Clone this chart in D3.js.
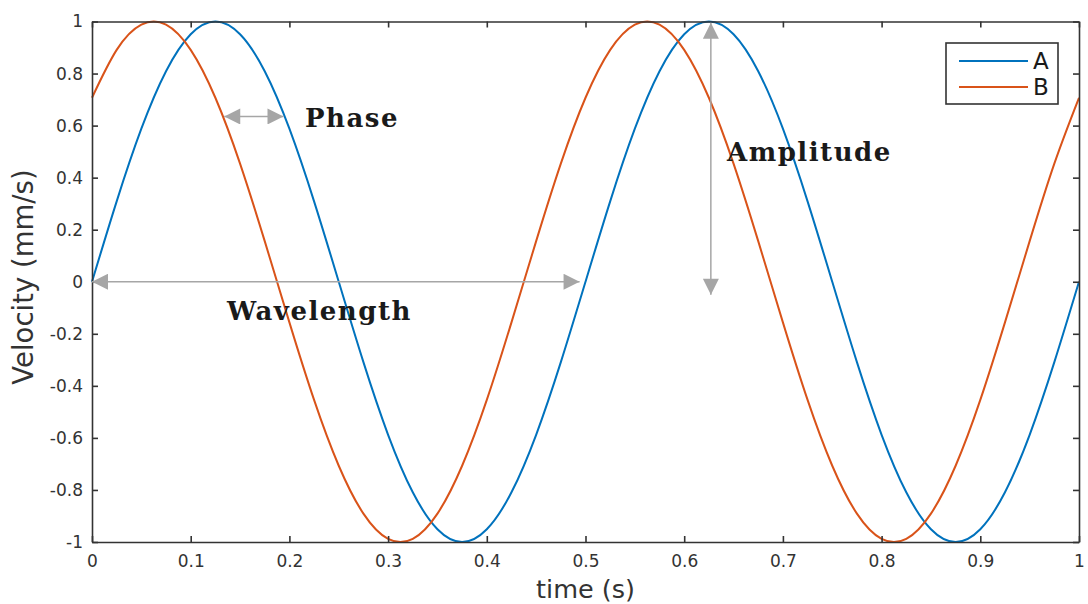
<!DOCTYPE html>
<html>
<head>
<meta charset="utf-8">
<script src="https://cdn.jsdelivr.net/npm/d3@7"></script>
<style>
  html, body { margin: 0; padding: 0; background: #fff; }
  svg { display: block; }
</style>
</head>
<body>
<svg id="chart" width="1088" height="604"></svg>
<script>
// Sample times (s)
const time = [0, 0.025, 0.05, 0.075, 0.1, 0.125, 0.15, 0.175, 0.2, 0.225,
  0.25, 0.275, 0.3, 0.325, 0.35, 0.375, 0.4, 0.425, 0.45, 0.475,
  0.5, 0.525, 0.55, 0.575, 0.6, 0.625, 0.65, 0.675, 0.7, 0.725,
  0.75, 0.775, 0.8, 0.825, 0.85, 0.875, 0.9, 0.925, 0.95, 0.975, 1];

// Velocity (mm/s) of wave A
const velocityA = [0, 0.309, 0.588, 0.809, 0.951, 1, 0.951, 0.809, 0.588, 0.309,
  0, -0.309, -0.588, -0.809, -0.951, -1, -0.951, -0.809, -0.588, -0.309,
  0, 0.309, 0.588, 0.809, 0.951, 1, 0.951, 0.809, 0.588, 0.309,
  0, -0.309, -0.588, -0.809, -0.951, -1, -0.951, -0.809, -0.588, -0.309, 0];

// Velocity (mm/s) of wave B (leads A)
const velocityB = [0.707, 0.891, 0.988, 0.988, 0.891, 0.707, 0.454, 0.156, -0.156, -0.454,
  -0.707, -0.891, -0.988, -0.988, -0.891, -0.707, -0.454, -0.156, 0.156, 0.454,
  0.707, 0.891, 0.988, 0.988, 0.891, 0.707, 0.454, 0.156, -0.156, -0.454,
  -0.707, -0.891, -0.988, -0.988, -0.891, -0.707, -0.454, -0.156, 0.156, 0.454, 0.707];

const seriesNames = ["A", "B"];
const seriesColors = ["#0072BD", "#D95319"];

const xTicks = [0, 0.1, 0.2, 0.3, 0.4, 0.5, 0.6, 0.7, 0.8, 0.9, 1];
const yTicks = [-1, -0.8, -0.6, -0.4, -0.2, 0, 0.2, 0.4, 0.6, 0.8, 1];

// Annotation anchors in data units
const phaseArrow = { t0: 0.134, t1: 0.194, v: 0.635 };
const wavelengthArrow = { t0: 0, t1: 0.494, v: 0 };
const amplitudeArrow = { t: 0.627, v0: 0.995, v1: -0.05 };

const svg = d3.select("#chart");
const margin = { left: 92, right: 9, top: 21.5, bottom: 62 };
const W = 1088, H = 604;
const x = d3.scaleLinear().domain([0, 1]).range([margin.left, W - margin.right]);
const y = d3.scaleLinear().domain([-1, 1]).range([H - margin.bottom, margin.top]);

const axisColor = "#333333";
const sans = "'DejaVu Sans', 'Liberation Sans', sans-serif";
const fmt = d => d3.format("~g")(d).replace("\u2212", "-");

// Curves
const line = d3.line().x(d => x(d[0])).y(d => y(d[1])).curve(d3.curveNatural);
const series = [velocityA, velocityB];
series.forEach((vals, i) => {
  svg.append("path")
    .datum(time.map((t, j) => [t, vals[j]]))
    .attr("fill", "none")
    .attr("stroke", seriesColors[i])
    .attr("stroke-width", 2)
    .attr("d", line);
});

// Axes with inward ticks on all four sides
const tickLen = 6;
const gx = svg.append("g").attr("transform", `translate(0,${y(-1)})`)
  .call(d3.axisBottom(x).tickValues(xTicks).tickSizeInner(-tickLen).tickSizeOuter(0)
    .tickPadding(13).tickFormat(fmt));
const gxTop = svg.append("g").attr("transform", `translate(0,${y(1)})`)
  .call(d3.axisTop(x).tickValues(xTicks).tickSizeInner(-tickLen).tickSizeOuter(0).tickFormat(""));
const gy = svg.append("g").attr("transform", `translate(${x(0)},0)`)
  .call(d3.axisLeft(y).tickValues(yTicks).tickSizeInner(-tickLen).tickSizeOuter(0)
    .tickPadding(9).tickFormat(fmt));
const gyRight = svg.append("g").attr("transform", `translate(${x(1)},0)`)
  .call(d3.axisRight(y).tickValues(yTicks).tickSizeInner(-tickLen).tickSizeOuter(0).tickFormat(""));

[gx, gxTop, gy, gyRight].forEach(g => {
  g.select(".domain").attr("stroke", axisColor).attr("stroke-width", 1.6);
  g.selectAll(".tick line").attr("stroke", axisColor).attr("stroke-width", 1.6);
  g.selectAll(".tick text").attr("fill", "#333")
    .style("font-family", sans).style("font-size", "17px");
});

// Axis labels
svg.append("text")
  .attr("x", x(0.5)).attr("y", 598)
  .attr("text-anchor", "middle")
  .style("font-family", sans).style("font-size", "25.5px").attr("fill", "#333")
  .text("time (s)");
svg.append("text")
  .attr("transform", `translate(33,277) rotate(-90)`)
  .attr("text-anchor", "middle")
  .style("font-family", sans).style("font-size", "27.5px").attr("fill", "#333")
  .text("Velocity (mm/s)");

// Gray double-headed arrows
const arrowColor = "#a6a6a6";
svg.append("defs").append("marker")
  .attr("id", "head")
  .attr("viewBox", "0 0 10 10")
  .attr("refX", 10).attr("refY", 5)
  .attr("markerWidth", 18).attr("markerHeight", 16)
  .attr("markerUnits", "userSpaceOnUse")
  .attr("orient", "auto-start-reverse")
  .append("path").attr("d", "M0,0 L10,5 L0,10 Z").attr("fill", arrowColor);

function arrow(x1, y1, x2, y2) {
  svg.append("line")
    .attr("x1", x1).attr("y1", y1).attr("x2", x2).attr("y2", y2)
    .attr("stroke", arrowColor).attr("stroke-width", 1.5)
    .attr("marker-start", "url(#head)").attr("marker-end", "url(#head)");
}
arrow(x(phaseArrow.t0), y(phaseArrow.v), x(phaseArrow.t1), y(phaseArrow.v));
arrow(x(wavelengthArrow.t0), y(wavelengthArrow.v), x(wavelengthArrow.t1), y(wavelengthArrow.v));
arrow(x(amplitudeArrow.t), y(amplitudeArrow.v0), x(amplitudeArrow.t), y(amplitudeArrow.v1));

// Annotation labels
const serif = "'DejaVu Serif', 'Liberation Serif', serif";
function note(tx, ty, txt) {
  svg.append("text")
    .attr("x", tx).attr("y", ty)
    .style("font-family", serif).style("font-size", "26px").style("font-weight", "bold")
    .style("letter-spacing", "1.5px")
    .attr("fill", "#1a1a1a")
    .text(txt);
}
note(305, 127, "Phase");
note(227, 320, "Wavelength");
note(727, 161, "Amplitude");

// Legend
const lg = svg.append("g");
lg.append("rect")
  .attr("x", 946).attr("y", 43).attr("width", 112).attr("height", 61)
  .attr("fill", "#fff").attr("stroke", axisColor).attr("stroke-width", 1.6);
seriesNames.forEach((name, i) => {
  const ly = 61 + i * 26;
  lg.append("line")
    .attr("x1", 959).attr("x2", 1028).attr("y1", ly).attr("y2", ly)
    .attr("stroke", seriesColors[i]).attr("stroke-width", 2);
  lg.append("text")
    .attr("x", 1033).attr("y", ly).attr("dy", "0.36em")
    .style("font-family", sans).style("font-size", "23px").attr("fill", "#1a1a1a")
    .text(name);
});
</script>
</body>
</html>
